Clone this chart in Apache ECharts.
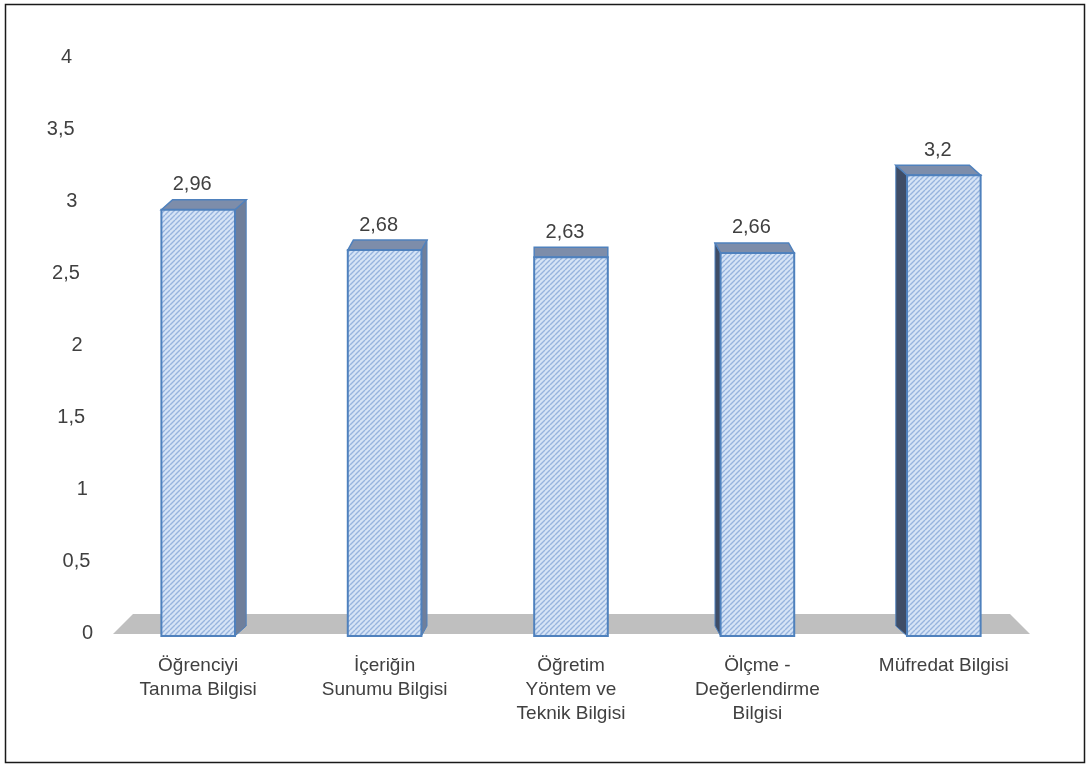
<!DOCTYPE html>
<html>
<head>
<meta charset="utf-8">
<script src="https://cdn.jsdelivr.net/npm/echarts@6/dist/echarts.min.js"></script>
<style>
  html, body { margin: 0; padding: 0; background: #ffffff; }
  #chart { width: 1091px; height: 766px; }
</style>
</head>
<body>
<div id="chart"></div>
<script>
// Knowledge areas and their mean scores
const categories = [
  'Öğrenciyi\nTanıma Bilgisi',
  'İçeriğin\nSunumu Bilgisi',
  'Öğretim\nYöntem ve\nTeknik Bilgisi',
  'Ölçme -\nDeğerlendirme\nBilgisi',
  'Müfredat Bilgisi'
];
const values = [2.96, 2.68, 2.63, 2.66, 3.2];
const valueLabels = ['2,96', '2,68', '2,63', '2,66', '3,2'];

// Value axis ticks and their (comma decimal) labels
const yTicks = [0, 0.5, 1, 1.5, 2, 2.5, 3, 3.5, 4];
const yTickLabels = ['0', '0,5', '1', '1,5', '2', '2,5', '3', '3,5', '4'];

const FONT = '"Liberation Sans", Arial, sans-serif';
const TEXT = '#404040';

// Light blue fill with fine diagonal hatching
function makeHatch() {
  const s = 5;
  const c = document.createElement('canvas');
  c.width = s; c.height = s;
  const g = c.getContext('2d');
  g.fillStyle = '#d6e4f6';
  g.fillRect(0, 0, s, s);
  g.strokeStyle = '#97b4de';
  g.lineWidth = 1.4;
  g.beginPath();
  for (let k = -s; k <= 2 * s; k += s) {
    g.moveTo(k, s);
    g.lineTo(k + s, 0);
  }
  g.stroke();
  return c;
}
const hatch = { image: makeHatch(), repeat: 'repeat' };

const chart = echarts.init(document.getElementById('chart'), null, { renderer: 'canvas' });

// 3D-looking column: hatched front, shaded top and side that lean toward the plot centre
function renderBar(params, api) {
  const i = api.value(0);
  const v = api.value(1);
  const base = api.coord([i, 0]);
  const top = api.coord([i, v]);
  const band = api.size([1, 0])[0];
  const w = band * 0.395;
  const cx = base[0];
  const cs = params.coordSys;
  const vanish = cs.x + cs.width / 2;
  const dx = (vanish - cx) * 0.03;
  const dy = -10;
  const x1 = cx - w / 2, x2 = cx + w / 2;
  const yb = base[1], yt = top[1];
  const edge = '#4f81bd';
  const children = [];

  if (Math.abs(dx) > 0.5) {
    const sx = dx > 0 ? x2 : x1;
    children.push({
      type: 'polygon',
      shape: { points: [[sx, yt], [sx + dx, yt + dy], [sx + dx, yb + dy], [sx, yb]] },
      style: { fill: dx > 0 ? '#6f7f9b' : '#3f4d66', stroke: edge, lineWidth: 1 }
    });
  }
  children.push({
    type: 'polygon',
    shape: { points: [[x1, yt], [x1 + dx, yt + dy], [x2 + dx, yt + dy], [x2, yt]] },
    style: { fill: '#7d8daa', stroke: edge, lineWidth: 1.5 }
  });
  children.push({
    type: 'rect',
    shape: { x: x1, y: yt, width: w, height: yb - yt },
    style: { fill: hatch, stroke: edge, lineWidth: 2 }
  });
  children.push({
    type: 'text',
    style: {
      text: valueLabels[params.dataIndex],
      x: cx - 6,
      y: yt + dy - 15,
      fill: TEXT,
      font: '20px ' + FONT,
      align: 'center',
      verticalAlign: 'middle'
    }
  });
  return { type: 'group', children };
}

// Grey floor plane under the columns
function renderFloor(params, api) {
  const band = api.size([1, 0])[0];
  const first = api.coord([0, 0]);
  const last = api.coord([categories.length - 1, 0]);
  const left = first[0] - band / 2;
  const right = last[0] + band / 2;
  const y0 = first[1];
  return {
    type: 'polygon',
    shape: {
      points: [
        [left + 8, y0 - 2], [right - 7, y0 - 2],
        [right - 27, y0 - 22], [left + 28, y0 - 22]
      ]
    },
    style: { fill: '#bfbfbf' }
  };
}

// Value-axis labels set along a slightly slanted edge
function renderTick(params, api) {
  const v = api.value(1);
  const p = api.coord([0, v]);
  const cs = params.coordSys;
  const y = p[1];
  const t = (y - cs.y) / cs.height;
  const xr = cs.x - 33 + t * 21;
  return {
    type: 'text',
    style: {
      text: yTickLabels[params.dataIndex],
      x: xr,
      y: y - 3,
      fill: TEXT,
      font: '20px ' + FONT,
      align: 'right',
      verticalAlign: 'middle'
    }
  };
}

chart.setOption({
  animation: false,
  backgroundColor: '#ffffff',
  graphic: [{
    type: 'rect',
    shape: { x: 5.5, y: 4.5, width: 1079, height: 758 },
    style: { fill: 'none', stroke: '#1a1a1a', lineWidth: 1.5 },
    z: 100
  }],
  grid: { left: 105, right: 54, top: 60, bottom: 130 },
  xAxis: {
    type: 'category',
    data: categories,
    axisLine: { show: false },
    axisTick: { show: false },
    splitLine: { show: false },
    axisLabel: {
      interval: 0,
      margin: 18,
      color: TEXT,
      fontFamily: FONT,
      fontSize: 19,
      lineHeight: 24
    }
  },
  yAxis: {
    type: 'value',
    min: 0,
    max: 4,
    interval: 0.5,
    axisLine: { show: false },
    axisTick: { show: false },
    splitLine: { show: false },
    axisLabel: { show: false }
  },
  series: [
    {
      type: 'custom',
      name: 'floor',
      renderItem: renderFloor,
      data: [[0, 0]],
      z: 1,
      silent: true
    },
    {
      type: 'custom',
      name: 'ticks',
      renderItem: renderTick,
      data: yTicks.map(v => [0, v]),
      z: 2,
      silent: true
    },
    {
      type: 'custom',
      name: 'Ortalama',
      renderItem: renderBar,
      data: values.map((v, i) => [i, v]),
      z: 3
    }
  ]
});
</script>
</body>
</html>
